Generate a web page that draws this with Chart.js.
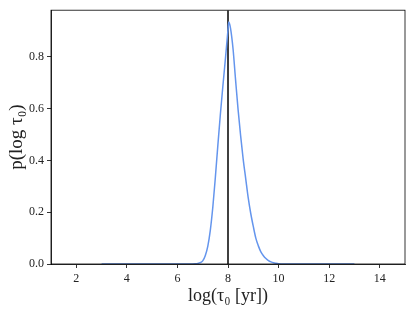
<!DOCTYPE html>
<html>
<head>
<meta charset="utf-8">
<script src="https://cdn.jsdelivr.net/npm/chart.js@4"></script>
<style>
  html, body { margin: 0; padding: 0; background: #fff; }
  #wrap { width: 415px; height: 311px; }
</style>
</head>
<body>
<div id="wrap"><canvas id="myChart" width="415" height="311"></canvas></div>
<script>
// posterior of log(tau0)
const logTau = [3, 6.6, 6.7, 6.8, 6.9, 7.0, 7.1, 7.2, 7.3, 7.4, 7.5, 7.6, 7.7, 7.8, 7.9, 7.95, 8.0, 8.03,
    8.1, 8.2, 8.3, 8.4, 8.5, 8.6, 8.7, 8.8, 8.9, 9.0, 9.1, 9.2, 9.3, 9.4, 9.5, 9.6, 9.7, 9.8, 9.9, 10.0, 10.2, 13];
const density = [0, 0, 0.0006, 0.002, 0.005, 0.012, 0.032, 0.068, 0.13, 0.22, 0.335, 0.46, 0.58, 0.69, 0.795, 0.85, 0.905, 0.934,
    0.91, 0.83, 0.71, 0.595, 0.495, 0.405, 0.33, 0.255, 0.195, 0.145, 0.10, 0.07, 0.047, 0.032, 0.021, 0.013, 0.008, 0.0045, 0.0025, 0.001, 0, 0];
const trueLogTau = 8;

const xTicks = [2, 4, 6, 8, 10, 12, 14];
const yTicks = [0, 0.2, 0.4, 0.6, 0.8];
const xRange = [1, 15];
const yRange = [0, 0.98];

const serif = "'Liberation Serif', 'DejaVu Serif', serif";

// matplotlib style frame round the plot area
const frame = {
    id: 'frame',
    afterDatasetsDraw(chart) {
        const a = chart.chartArea;
        const ctx = chart.ctx;
        ctx.save();
        ctx.strokeStyle = '#000';
        ctx.lineWidth = 0.8;
        ctx.strokeRect(a.left, a.top, a.right - a.left, a.bottom - a.top);
        ctx.restore();
    }
};

const ctx = document.getElementById('myChart').getContext('2d');
const myChart = new Chart(ctx, {
    type: 'line',
    data: {
        datasets: [
            {
                data: logTau.map((x, i) => ({ x: x, y: density[i] })),
                borderColor: '#6495ED',
                borderWidth: 1.5,
                pointRadius: 0,
                cubicInterpolationMode: 'monotone',
                fill: false
            },
            {
                data: [{ x: trueLogTau, y: yRange[0] }, { x: trueLogTau, y: yRange[1] }],
                borderColor: '#000',
                borderWidth: 1.5,
                pointRadius: 0,
                fill: false
            }
        ]
    },
    plugins: [frame],
    options: {
        responsive: false,
        animation: false,
        events: [],
        layout: { padding: { top: 8, right: 10, left: 0, bottom: 0 } },
        plugins: { legend: { display: false }, tooltip: { enabled: false } },
        scales: {
            x: {
                type: 'linear',
                min: xRange[0],
                max: xRange[1],
                afterBuildTicks: s => { s.ticks = xTicks.map(v => ({ value: v })); },
                afterFit: s => { s.height = 47; },
                grid: { display: true, drawOnChartArea: false, drawTicks: true, tickLength: 4, color: '#000', tickWidth: 0.8 },
                border: { display: true, color: '#000', width: 0.8 },
                ticks: { color: '#222', font: { family: serif, size: 12 }, padding: 4, maxRotation: 0,
                    callback: v => v.toString() },
                title: { display: true, text: 'log(τ₀ [yr])', color: '#222', font: { family: serif, size: 18 }, padding: { top: 0 } }
            },
            y: {
                type: 'linear',
                min: yRange[0],
                max: yRange[1],
                afterBuildTicks: s => { s.ticks = yTicks.map(v => ({ value: v })); },
                afterFit: s => { s.width = 51; },
                grid: { display: true, drawOnChartArea: false, drawTicks: true, tickLength: 4, color: '#000', tickWidth: 0.8 },
                border: { display: true, color: '#000', width: 0.8 },
                ticks: { color: '#222', font: { family: serif, size: 12 }, padding: 3,
                    callback: v => v.toFixed(1) },
                title: { display: true, text: 'p(log τ₀)', color: '#222', font: { family: serif, size: 19 }, padding: { top: 6, bottom: 2 } }
            }
        }
    }
});
</script>
</body>
</html>
